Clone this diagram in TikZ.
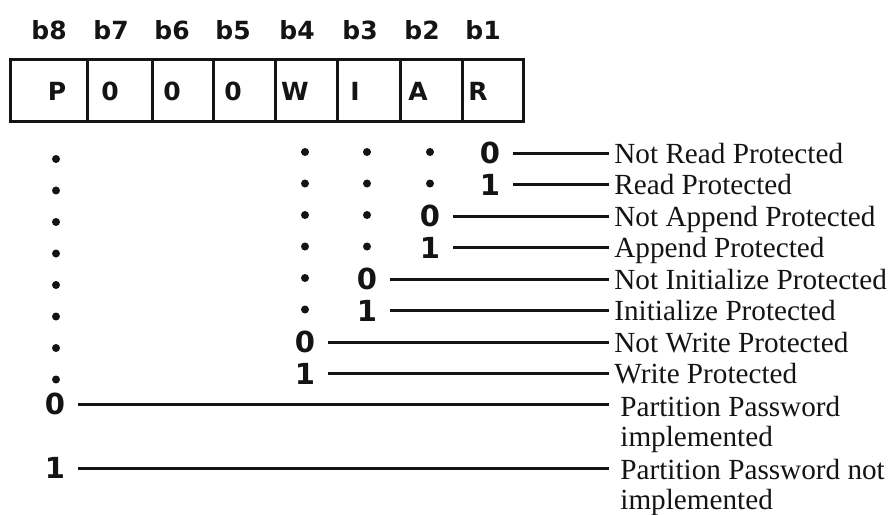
\documentclass[tikz,border=0pt]{standalone}
\usepackage{fontspec}
\setmainfont{Liberation Serif}
\newfontfamily\bitfont{DejaVu Sans}
\usetikzlibrary{positioning}
\definecolor{myink}{RGB}{20,20,20}
\tikzset{
  bithdr/.style={font=\bitfont\bfseries\fontsize{12.5}{14}\selectfont,
    inner sep=0pt, color=myink},
  fieldchar/.style={font=\bitfont\bfseries\fontsize{12.5}{14}\selectfont,
    inner sep=0pt, color=myink},
  bitval/.style={font=\bitfont\bfseries\fontsize{14.5}{16}\selectfont,
    inner ysep=0pt, inner xsep=6.5pt, color=myink},
  meaning/.style={font=\fontsize{14.6}{14.6}\selectfont, anchor=base west,
    inner sep=0pt, align=left, color=myink},
  filler/.style={circle, fill=myink, inner sep=0pt, minimum size=4pt},
  regline/.style={line width=1.5pt, color=myink},
  lead/.style={line width=1.5pt, color=myink}
}

\begin{document}
\begin{tikzpicture}[x=0.5pt, y=-0.5pt]
  \useasboundingbox (0,0) rectangle (894,514);

  % Register
  \draw[regline] (10,59) rectangle (523,121);
  \foreach \x in {87,152,213,275,337,400,462}
    \draw[regline] (\x,59) -- (\x,121);
  \foreach \n/\x/\fld/\fx in {8/49/P/57, 7/111/0/110, 6/172/0/172, 5/233/0/233,
      4/297/W/295, 3/360/I/355, 2/422/A/418, 1/483/R/478} {
    \node[bithdr] (b\n) at (\x,30) {b\n};
    \node[fieldchar] (f\n) at (\fx,91) {\fld};
  }

  % Bit values
  \foreach \r/\y/\x/\v in {1/153/490/0, 2/184.5/490/1, 3/216/430/0, 4/247.5/430/1,
      5/279/367/0, 6/310.5/367/1, 7/342/305/0, 8/373.5/305/1, 9/404/55/0, 10/468/55/1}
    \node[bitval] (v\r) at (\x,\y) {\v};

  % Dots
  \foreach \r/\y in {1/159, 2/190.5, 3/222, 4/253.5, 5/285, 6/316.5, 7/348, 8/379.5}
    \node[filler] (p\r) at (56,\y) {};
  \foreach \r/\y/\cols in {1/152/{305,367,430}, 2/183.5/{305,367,430}, 3/215/{305,367},
      4/246.5/{305,367}, 5/278/{305}, 6/309.5/{305}}
    \foreach \x in \cols
      \node[filler] (d\r-\x) at (\x,\y) {};

  % Meanings (base = last line)
  \node[meaning] (m1) at (614,163) {Not Read Protected};
  \node[meaning] (m2) at (614,194.5) {Read Protected};
  \node[meaning] (m3) at (614,226) {Not Append Protected};
  \node[meaning] (m4) at (614,257.5) {Append Protected};
  \node[meaning] (m5) at (614,289) {Not Initialize Protected};
  \node[meaning] (m6) at (614,320.5) {Initialize Protected};
  \node[meaning] (m7) at (614,352) {Not Write Protected};
  \node[meaning] (m8) at (614,383.5) {Write Protected};
  \node[meaning] (m9) at (620,446) {Partition Password\\implemented};
  \node[meaning] (m10) at (620,509) {Partition Password not\\implemented};

  % Leaders
  \foreach \r/\gap in {1/2.5, 2/2.5, 3/2.5, 4/2.5, 5/2.5, 6/2.5, 7/2.5, 8/2.5, 9/5.5, 10/5.5}
    \draw[lead, shorten >=\gap pt] (v\r.east) -- (v\r -| m\r.west);
\end{tikzpicture}
\end{document}
